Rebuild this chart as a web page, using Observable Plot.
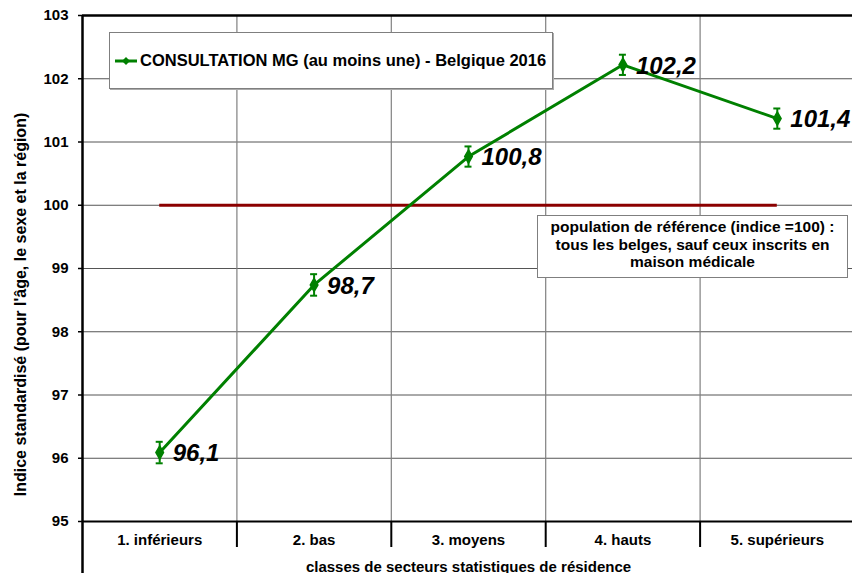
<!DOCTYPE html>
<html><head><meta charset="utf-8">
<script src="https://cdn.jsdelivr.net/npm/d3@7"></script>
<script src="https://cdn.jsdelivr.net/npm/@observablehq/plot@0.6"></script>
<style>
body{margin:0;background:#fff;font-family:"Liberation Sans",Arial,sans-serif;}
#wrap{position:relative;width:852px;height:573px;overflow:hidden;}
.box{position:absolute;background:#fff;border:1px solid #7f7f7f;box-sizing:border-box;font-weight:bold;color:#000;}
</style></head><body>
<div id="wrap"></div>
<script>
const categories = ["1. inférieurs","2. bas","3. moyens","4. hauts","5. supérieurs"];
const values = [96.09, 98.74, 100.77, 102.22, 101.37];
const valueLabels = ["96,1","98,7","100,8","102,2","101,4"];
const errorMargins = [0.17, 0.17, 0.16, 0.16, 0.16];
const yTicks = [95,96,97,98,99,100,101,102,103];
const referenceValue = 100;
const seriesName = "CONSULTATION MG (au moins une) - Belgique 2016";
const referenceNote = ["population de référence (indice =100) :", "tous les belges, sauf ceux inscrits en", "maison médicale"];
const yTitle = "Indice standardisé (pour l'âge, le sexe et la région)";
const xTitle = "classes de secteurs statistiques de résidence";

const data = categories.map((c,i)=>({pos:i+1, category:c, value:values[i], label:valueLabels[i], lo:values[i]-errorMargins[i], hi:values[i]+errorMargins[i]}));
const positions = data.map(d=>d.pos);
const boundaries = positions.slice(0,-1).map(p=>p+0.5);
const green = "#008000";
const font = '"Liberation Sans", Arial, sans-serif';

const chart = Plot.plot({
  width:852, height:573,
  marginLeft:82, marginRight:-2, marginTop:15, marginBottom:52,
  style:{fontFamily:font, background:"#fff", overflow:"visible"},
  x:{type:"linear", domain:[0.5, categories.length+0.5]},
  y:{domain:[yTicks[0], yTicks[yTicks.length-1]]},
  marks:[
    Plot.ruleY(yTicks, {stroke:"#555", strokeWidth:1}),
    Plot.ruleX(boundaries, {stroke:"#808080", strokeWidth:1.2}),
    Plot.ruleY([referenceValue], {x1: positions[0], x2: positions[positions.length-1], stroke:"#8b0000", strokeWidth:3}),
    Plot.ruleY([yTicks[yTicks.length-1]], {stroke:"#000", strokeWidth:2.5}),
    Plot.ruleY([yTicks[0]], {stroke:"#000", strokeWidth:2}),
    Plot.ruleX([0.5], {stroke:"#000", strokeWidth:2.5, insetBottom:-52}),
    Plot.axisY(yTicks, {tickSize:4, tickPadding:10, tickFormat:d=>String(d), fontSize:15, fontWeight:"bold", label:null, strokeWidth:1.5}),
    Plot.axisX(boundaries, {tickSize:26, tickFormat:()=>"", label:null, strokeWidth:2}),
    Plot.axisX(positions, {tickSize:0, tickPadding:13, tickFormat:p=>categories[p-1], fontSize:15, fontWeight:"bold", label:null}),
    Plot.text([xTitle], {frameAnchor:"bottom", textAnchor:"middle", dy:50, lineAnchor:"bottom", fontSize:15, fontWeight:"bold"}),
    Plot.text([yTitle], {frameAnchor:"left", textAnchor:"middle", lineAnchor:"middle", rotate:-90, dx:-62, dy:36, fontSize:16, fontWeight:"bold"}),
    Plot.line(data, {x:"pos", y:"value", stroke:green, strokeWidth:3}),
    Plot.ruleX(data, {x:"pos", y1:"lo", y2:"hi", stroke:green, strokeWidth:2}),
    Plot.ruleY(data, {y:"lo", x1:"pos", x2:"pos", insetLeft:-3.5, insetRight:-3.5, stroke:green, strokeWidth:2}),
    Plot.ruleY(data, {y:"hi", x1:"pos", x2:"pos", insetLeft:-3.5, insetRight:-3.5, stroke:green, strokeWidth:2}),
    Plot.dot(data, {x:"pos", y:"value", symbol:"diamond", r:4, fill:green, stroke:green}),
    Plot.text(data, {x:"pos", y:"value", text:"label", dx:13, dy:1, textAnchor:"start", fontSize:24, fontWeight:"bold", fontStyle:"italic", fill:"#000"})
  ]
});
const wrap = document.getElementById("wrap");
wrap.appendChild(chart);

const legend = document.createElement("div");
legend.className = "box";
legend.style.cssText = "left:109px;top:32px;width:444px;height:57px;display:flex;align-items:center;padding-left:5px;box-shadow:1px 1px 0 #aaa;font-size:16.5px;";
legend.innerHTML = '<svg width="22" height="10" style="flex:none"><line x1="0" y1="5" x2="22" y2="5" stroke="'+green+'" stroke-width="3"/><path d="M11 1 L15 5 L11 9 L7 5Z" fill="'+green+'"/></svg>';
const lt = document.createElement("span");
lt.style.marginLeft = "3px";
lt.style.whiteSpace = "nowrap";
lt.textContent = seriesName;
legend.appendChild(lt);
wrap.appendChild(legend);

const note = document.createElement("div");
note.className = "box";
note.style.cssText = "left:537px;top:215px;width:311px;height:63px;text-align:center;line-height:17.5px;padding-top:2px;font-size:15.5px;";
note.innerHTML = referenceNote.map(s=>'<div>'+s+'</div>').join("");
wrap.appendChild(note);
</script>
</body></html>
